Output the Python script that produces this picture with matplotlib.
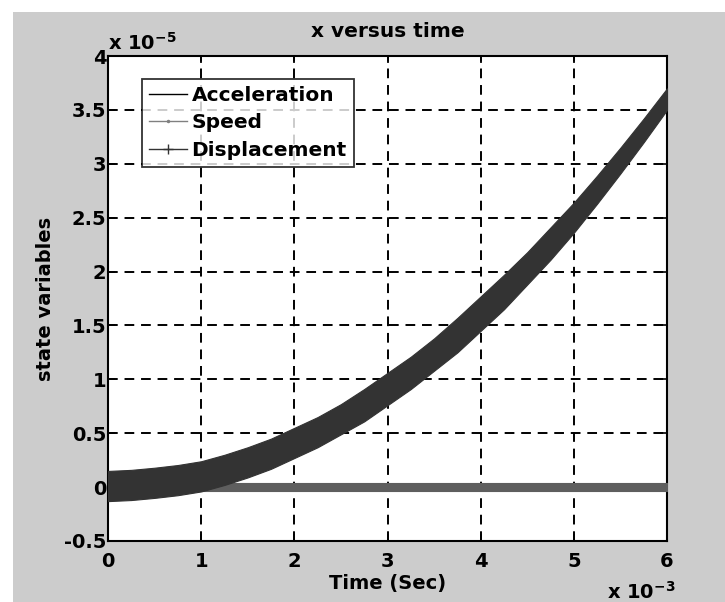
import matplotlib
matplotlib.use('Agg')
from matplotlib import pyplot as plt
from matplotlib.patches import Rectangle

plt.rcParams['font.family'] = ['DejaVu Sans']
plt.rcParams['font.weight'] = 'bold'

# time in ms (axis multiplier x 10^-3)
time_ms = [0, 0.25, 0.5, 0.75, 1, 1.25, 1.5, 1.75, 2, 2.25, 2.5, 2.75, 3,
           3.25, 3.5, 3.75, 4, 4.25, 4.5, 4.75, 5, 5.25, 5.5, 5.75, 6]
# values in units of 10^-5
displacement = [0.01, 0.02, 0.04, 0.065, 0.1, 0.16, 0.23, 0.31, 0.41, 0.51, 0.63, 0.76, 0.91,
                1.06, 1.23, 1.41, 1.61, 1.81, 2.03, 2.26, 2.5, 2.76, 3.03, 3.31, 3.6]
disp_spread = [0.14, 0.14, 0.14, 0.14, 0.14, 0.14, 0.14, 0.14, 0.14, 0.14, 0.14, 0.15, 0.15,
               0.15, 0.15, 0.16, 0.16, 0.16, 0.15, 0.15, 0.14, 0.13, 0.12, 0.11, 0.1]
speed = [0.0, 0.0, 0.0, 0.0, 0.0, 0.0, 0.0, 0.0, 0.0, 0.0, 0.0, 0.0, 0.0,
         0.0, 0.0, 0.0, 0.0, 0.0, 0.0, 0.0, 0.0, 0.0, 0.0, 0.0, 0.0]
speed_spread = 0.04
acceleration = [0.0] * len(time_ms)

disp_color = '#333333'
speed_color = '#5e5e5e'

fig = plt.figure(figsize=(7.25, 6.02), dpi=100, facecolor='white')
fig.patches.append(Rectangle((13 / 725, 0), 1, 1 - 12 / 602, transform=fig.transFigure,
                             facecolor='#cccccc', edgecolor='none', zorder=-10))
ax = fig.add_axes([108 / 725, 1 - 541 / 602, 559 / 725, 485 / 602])
ax.set_facecolor('white')

ax.plot(time_ms, acceleration, color='black', linewidth=1, zorder=2)
speed_lo = [v - speed_spread for v in speed]
speed_hi = [v + speed_spread for v in speed]
ax.fill_between(time_ms, speed_lo, speed_hi, color=speed_color, linewidth=0.8, zorder=3)
disp_lo = [d - s for d, s in zip(displacement, disp_spread)]
disp_hi = [d + s for d, s in zip(displacement, disp_spread)]
ax.fill_between(time_ms, disp_lo, disp_hi, color=disp_color, linewidth=0.8, zorder=4,
                clip_on=False)

# legend proxies
ax.plot([], [], color='black', linewidth=1, label='Acceleration')
ax.plot([], [], color='#808080', linewidth=1, marker='.', markersize=3, label='Speed')
ax.plot([], [], color='#333333', linewidth=1, marker='+', markersize=7, label='Displacement')

ax.set_xlim(0, 6)
ax.set_ylim(-0.5, 4)
ax.set_xticks([0, 1, 2, 3, 4, 5, 6])
ax.set_yticks([-0.5, 0, 0.5, 1, 1.5, 2, 2.5, 3, 3.5, 4])
ax.set_yticklabels(['-0.5', '0', '0.5', '1', '1.5', '2', '2.5', '3', '3.5', '4'])
ax.tick_params(direction='in', top=True, right=True, length=5, width=1.2, labelsize=14)
ax.tick_params(axis='x', pad=8)
ax.tick_params(axis='y', pad=1)
ax.grid(True, color='black', linestyle=(0, (5, 3.5)), linewidth=1.4)
for s in ax.spines.values():
    s.set_linewidth(1.5)
ax.set_axisbelow(False)

ax.set_title('x versus time', fontsize=14.5, fontweight='bold', pad=14)
ax.set_xlabel('Time (Sec)', fontsize=14, fontweight='bold')
ax.xaxis.set_label_coords(0.5, -0.068)
ax.set_ylabel('state variables', fontsize=14, fontweight='bold')
ax.yaxis.set_label_coords(-0.095, 0.5)

fig.text(108 / 725, 1 - 50 / 602, r'x 10$^{\mathregular{-5}}$', fontsize=14,
         fontweight='bold', ha='left', va='baseline')
fig.text(607 / 725, 1 - 599 / 602, r'x 10$^{\mathregular{-3}}$', fontsize=14,
         fontweight='bold', ha='left', va='baseline')

leg = ax.legend(loc='upper left', bbox_to_anchor=(0.061, 0.953), fontsize=14.5,
                frameon=True, fancybox=False, borderpad=0.35, labelspacing=0.42,
                handlelength=1.9, handletextpad=0.2, borderaxespad=0)
leg.get_frame().set_edgecolor('black')
leg.get_frame().set_linewidth(1.3)
leg.set_zorder(10)

fig.savefig('out.png', dpi=100, facecolor=fig.get_facecolor())
